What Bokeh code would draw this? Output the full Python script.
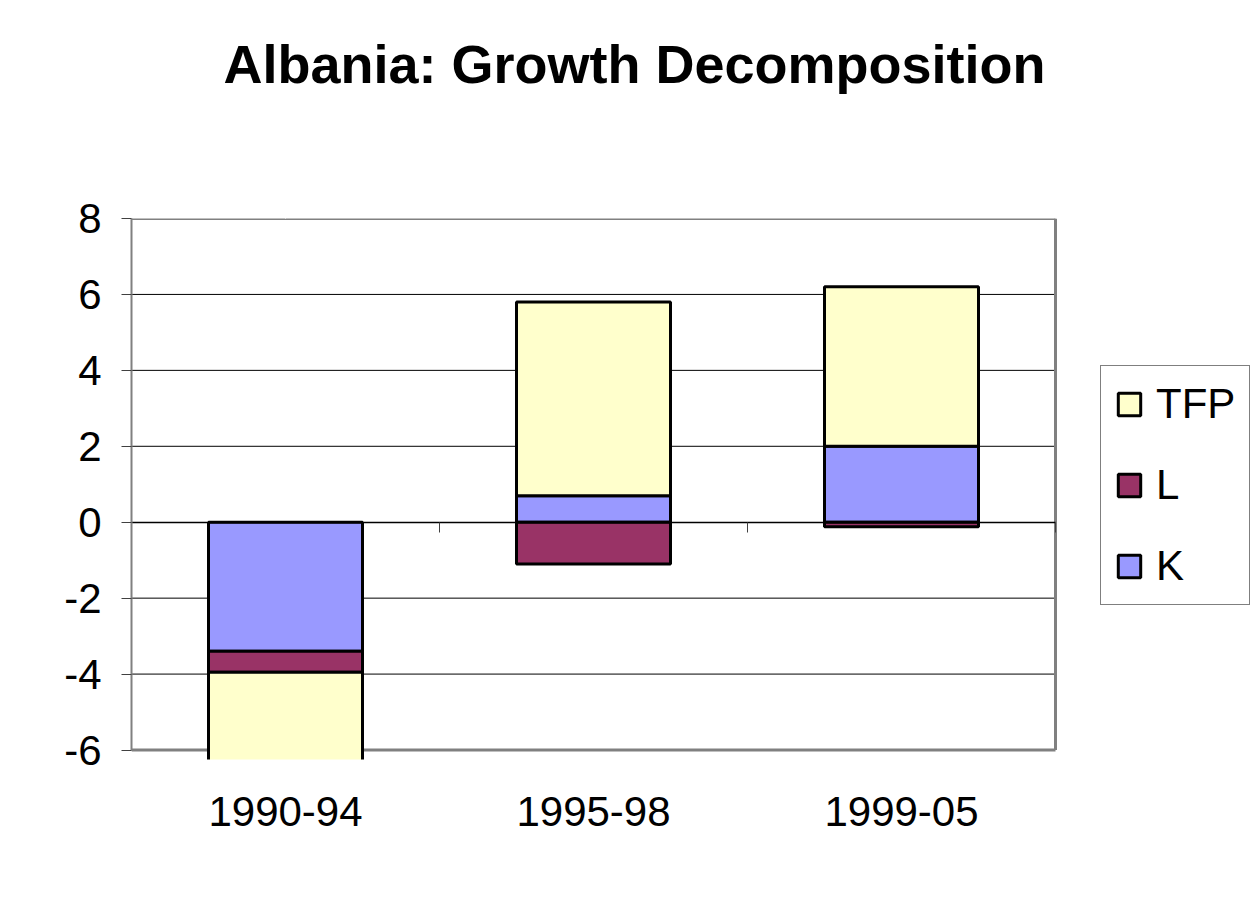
import numpy as np
from bokeh.plotting import figure
from bokeh.models import (Range1d, LinearAxis, FixedTicker, Legend, LegendItem)
from bokeh.embed import file_html
from bokeh.resources import INLINE

# ---- data ----
categories = ["1990-94", "1995-98", "1999-05"]
K = [-3.4, 0.7, 2.0]
L = [-0.55, -1.1, -0.12]
TFP = [-2.6, 5.1, 4.2]
y_ticks = [-6, -4, -2, 0, 2, 4, 6, 8]

colors = {"K": "#9999FF", "L": "#993366", "TFP": "#FFFFCC"}
FONT = "Liberation Sans"
BORDER = "#808080"

n = len(categories)
W, H = 1250, 900
LEFT, TOP, FRAME_H = 131, 218, 541
PLOT_W = 924                      # width of the bordered plot area
FRAME_W = W - LEFT                # frame extends to the right edge (legend lives there)
x_end = n * FRAME_W / PLOT_W

p = figure(width=W, height=H, output_backend="svg", toolbar_location=None,
           x_range=Range1d(0, x_end), y_range=Range1d(-6.25, 8),
           x_axis_type=None,
           min_border_left=LEFT, min_border_right=0,
           min_border_top=TOP, min_border_bottom=H - TOP - FRAME_H)
p.background_fill_color = "white"
p.border_fill_color = "white"
p.outline_line_color = None

xs = np.arange(n) + 0.5

# invisible spacer above the frame, so that the title sits high
spacer = LinearAxis(ticker=FixedTicker(ticks=[float(xs[0])]))
spacer.major_label_overrides = {float(xs[0]): ""}
spacer.axis_line_color = None
spacer.major_tick_line_color = "white"
spacer.minor_tick_line_color = None
spacer.major_tick_out = 120
spacer.major_tick_in = 0
spacer.major_label_standoff = 0
p.add_layout(spacer, "above")

# title
p.title.text = "Albania: Growth Decomposition"
p.title.text_font = FONT
p.title.text_font_size = "54px"
p.title.text_font_style = "bold"
p.title.text_color = "black"
p.title.align = "left"
p.title.offset = 92
p.title.standoff = 10

# y axis
ya = p.yaxis[0]
ya.ticker = FixedTicker(ticks=y_ticks)
ya.bounds = (y_ticks[0], y_ticks[-1])
ya.major_label_overrides = {t: str(t) for t in y_ticks}
ya.axis_line_color = BORDER
ya.axis_line_width = 2
ya.major_tick_out = 10
ya.major_tick_in = 0
ya.major_tick_line_color = "#404040"
ya.minor_tick_line_color = None
ya.major_label_text_font = FONT
ya.major_label_text_font_size = "42px"
ya.major_label_text_color = "black"
ya.major_label_standoff = 20

# category axis (labels at bottom)
xa = LinearAxis(ticker=FixedTicker(ticks=list(xs)))
xa.major_label_overrides = {float(x): c for x, c in zip(xs, categories)}
xa.axis_line_color = None
xa.major_tick_line_color = None
xa.minor_tick_line_color = None
xa.major_tick_out = 0
xa.major_tick_in = 0
xa.major_label_text_font = FONT
xa.major_label_text_font_size = "42px"
xa.major_label_text_color = "black"
xa.major_label_standoff = 37
p.add_layout(xa, "below")

# zero axis with category separators
sep = list(range(n + 1))
za = LinearAxis(fixed_location=0, ticker=FixedTicker(ticks=sep), bounds=(0, n))
za.major_label_overrides = {s: "" for s in sep}
za.axis_line_color = "black"
za.axis_line_width = 1.5
za.major_tick_out = 10
za.major_tick_in = 0
za.major_tick_line_color = "#404040"
za.minor_tick_line_color = None
p.add_layout(za, "below")

# grid (drawn only across the plot area)
p.ygrid.visible = False
grid_vals = [t for t in y_ticks if t not in (0, y_ticks[0], y_ticks[-1])]
p.segment(x0=[0] * len(grid_vals), y0=grid_vals, x1=[n] * len(grid_vals), y1=grid_vals,
          line_color="black", line_width=1)

# plot area border (top, bottom, right)
p.segment(x0=[0, 0, n], y0=[y_ticks[-1], y_ticks[0], y_ticks[0]],
          x1=[n, n, n], y1=[y_ticks[-1], y_ticks[0], y_ticks[-1]],
          line_color=BORDER, line_width=3)

# stacked bars
pos = np.zeros(n)
neg = np.zeros(n)
renderers = {}
for name, vals in [("K", K), ("L", L), ("TFP", TFP)]:
    v = np.array(vals, dtype=float)
    bottom = np.where(v >= 0, pos, neg)
    top = bottom + v
    pos = np.where(v >= 0, top, pos)
    neg = np.where(v < 0, top, neg)
    renderers[name] = p.vbar(x=xs, bottom=bottom, top=top, width=0.5,
                             fill_color=colors[name], line_color="black", line_width=3)

legend = Legend(items=[LegendItem(label=nm, renderers=[renderers[nm]]) for nm in ["TFP", "L", "K"]],
                location=(969, 154))
legend.label_text_font = FONT
legend.label_text_font_size = "42px"
legend.label_text_color = "black"
legend.glyph_width = 28
legend.glyph_height = 28
legend.label_height = 48
legend.spacing = 33
legend.padding = 14
legend.margin = 0
legend.label_standoff = 13
legend.border_line_color = "black"
legend.border_line_width = 1
legend.background_fill_color = "white"
p.add_layout(legend, "center")

open("out.html", "w").write(file_html(p, INLINE))
